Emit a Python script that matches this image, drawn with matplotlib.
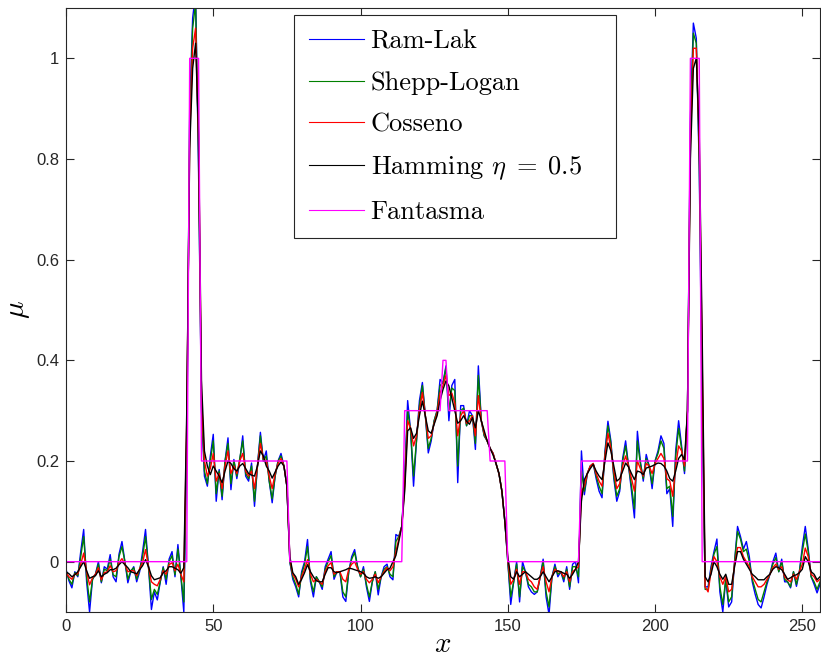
import numpy as np
import matplotlib
matplotlib.use("Agg")
import matplotlib.pyplot as plt
from matplotlib.font_manager import FontProperties

plt.rcParams["mathtext.fontset"] = "cm"
plt.rcParams["font.family"] = ["Liberation Sans", "DejaVu Sans"]

# reconstructed profiles, one sample per pixel column (x = 0..256)
x_rec = np.arange(257)

ram_lak = [
    -.015, -.038, -.052, -.020, -.030, .020, .064, -.040, -.100, -.035,
    -.025, .000, -.042, -.010, -.015, .014, -.030, -.040, .015, .040,
    .000, -.042, -.020, -.010, -.040, -.020, .020, .064, -.010, -.095,
    -.060, -.076, -.040, -.010, -.045, .005, .020, -.030, .034, -.030,
    -.100, .22, .90, 1.08, 1.13, .78, .30, .17, .15, .21,
    .253, .12, .183, .123, .20, .246, .143, .203, .165, .20,
    .25, .17, .16, .196, .11, .19, .257, .20, .22, .16,
    .117, .17, .20, .215, .19, .15, .00, -.035, -.05, -.07,
    -.02, .00, .044, -.04, -.07, -.03, -.04, -.055, -.01, .005,
    .02, -.035, -.02, -.02, -.07, -.079, -.02, .01, .024, -.01,
    -.03, -.01, -.05, -.079, -.04, -.02, -.066, -.03, -.01, -.005,
    -.03, -.036, .054, .05, .07, .17, .32, .26, .15, .24,
    .32, .356, .29, .216, .24, .28, .30, .362, .355, .389,
    .28, .35, .362, .157, .31, .31, .27, .30, .29, .223,
    .389, .28, .25, .24, .225, .215, .195, .175, .14, .08,
    .00, -.085, -.04, .00, -.08, .00, -.02, -.05, -.06, -.065,
    -.06, -.03, .005, -.07, -.105, -.03, -.005, -.03, -.02, -.04,
    -.01, -.055, -.005, .00, -.042, .22, .133, .175, .19, .195,
    .165, .14, .127, .22, .279, .24, .165, .12, .14, .205,
    .24, .19, .14, .087, .259, .20, .16, .213, .19, .145,
    .20, .22, .25, .235, .135, .145, .07, .22, .28, .23,
    .175, .30, .88, 1.07, 1.04, .78, .30, -.05, -.05, -.01,
    .02, .045, -.06, -.10, -.035, -.09, -.08, .00, .07, .05,
    .025, .04, .01, -.04, -.065, -.085, -.092, -.07, -.045, -.025,
    .00, .017, -.02, .005, -.04, -.04, -.052, -.02, -.049, -.02,
    .03, .07, .025, -.03, -.045, -.062, -.045,
]

shepp_logan = [
    -.018, -.035, -.045, -.022, -.028, .010, .050, -.030, -.080, -.035,
    -.025, -.005, -.040, -.015, -.018, .005, -.026, -.030, .010, .030,
    .000, -.035, -.018, -.012, -.035, -.016, .010, .050, -.010, -.075,
    -.055, -.065, -.040, -.012, -.035, .000, .012, -.026, .025, -.028,
    -.080, .25, .88, 1.06, 1.11, .80, .31, .18, .155, .20,
    .24, .135, .18, .13, .20, .235, .155, .20, .17, .205,
    .24, .175, .165, .19, .12, .19, .25, .20, .21, .16,
    .125, .17, .20, .21, .19, .15, .00, -.03, -.045, -.065,
    -.025, -.005, .03, -.035, -.06, -.03, -.04, -.05, -.015, .00,
    .012, -.03, -.02, -.02, -.06, -.07, -.02, .005, .018, -.01,
    -.03, -.015, -.045, -.07, -.04, -.02, -.055, -.03, -.015, -.01,
    -.025, -.03, .04, .05, .07, .16, .30, .26, .17, .24,
    .31, .35, .29, .225, .245, .28, .30, .35, .355, .385,
    .30, .345, .34, .19, .30, .305, .27, .29, .29, .235,
    .37, .28, .25, .24, .225, .215, .195, .175, .14, .08,
    .00, -.07, -.04, -.005, -.07, -.01, -.02, -.045, -.05, -.06,
    -.06, -.03, .00, -.06, -.09, -.03, -.01, -.025, -.02, -.035,
    -.015, -.05, -.01, -.01, -.03, .18, .14, .175, .19, .195,
    .17, .15, .135, .215, .27, .235, .17, .13, .145, .20,
    .23, .19, .15, .105, .24, .195, .165, .205, .19, .155,
    .20, .215, .24, .225, .145, .15, .09, .21, .265, .225,
    .18, .30, .86, 1.05, 1.03, .80, .35, -.055, -.055, -.015,
    .015, .03, -.05, -.085, -.035, -.08, -.07, .00, .06, .045,
    .02, .025, .00, -.035, -.055, -.075, -.08, -.06, -.04, -.025,
    -.005, .008, -.02, .00, -.035, -.04, -.05, -.02, -.045, -.02,
    .02, .055, .02, -.03, -.04, -.055, -.04,
]

cosseno = [
    -.022, -.030, -.035, -.025, -.024, -.005, .017, -.020, -.046, -.032,
    -.025, -.012, -.036, -.022, -.020, -.008, -.020, -.018, -.002, .006,
    -.005, -.020, -.018, -.018, -.028, -.014, -.002, .024, -.010, -.040,
    -.045, -.048, -.035, -.018, -.025, -.006, -.002, -.018, -.005, -.025,
    -.040, .28, .84, 1.02, 1.06, .84, .33, .20, .17, .185,
    .215, .16, .175, .145, .19, .22, .175, .19, .175, .20,
    .215, .18, .17, .18, .145, .19, .235, .205, .20, .17,
    .145, .175, .195, .205, .19, .15, .005, -.025, -.035, -.05,
    -.03, -.015, .004, -.025, -.04, -.035, -.04, -.045, -.02, -.008,
    -.002, -.025, -.02, -.02, -.035, -.04, -.015, -.005, .00, -.015,
    -.025, -.02, -.035, -.042, -.035, -.025, -.042, -.03, -.02, -.012,
    -.018, -.01, .02, .045, .07, .15, .28, .265, .23, .25,
    .30, .336, .29, .245, .25, .275, .295, .335, .35, .37,
    .33, .335, .315, .25, .29, .30, .275, .28, .29, .25,
    .33, .28, .255, .24, .225, .215, .195, .175, .14, .08,
    .005, -.045, -.035, -.015, -.045, -.02, -.02, -.035, -.04, -.05,
    -.055, -.03, -.01, -.04, -.06, -.03, -.015, -.02, -.02, -.03,
    -.02, -.04, -.02, -.015, -.01, .14, .15, .175, .19, .195,
    .175, .16, .15, .21, .255, .225, .18, .145, .155, .19,
    .21, .19, .165, .14, .20, .185, .17, .195, .19, .175,
    .195, .205, .215, .205, .165, .16, .13, .19, .23, .22,
    .19, .30, .83, 1.02, 1.02, .83, .40, -.05, -.06, -.02,
    .01, .00, -.03, -.045, -.03, -.06, -.055, -.005, .028, .028,
    .01, .00, -.01, -.03, -.04, -.05, -.05, -.045, -.035, -.025,
    -.012, -.005, -.015, -.01, -.03, -.036, -.04, -.025, -.035, -.02,
    -.005, .027, .01, -.025, -.03, -.04, -.035,
]

hamming = [
    -.020, -.024, -.030, -.026, -.020, -.010, .000, -.018, -.033, -.030,
    -.028, -.018, -.030, -.025, -.022, -.016, -.016, -.013, -.006, .000,
    -.006, -.012, -.020, -.022, -.024, -.016, -.008, .004, -.010, -.028,
    -.036, -.034, -.032, -.022, -.018, -.010, -.010, -.013, -.016, -.023,
    -.012, .30, .82, .98, 1.03, .85, .36, .22, .19, .173,
    .19, .18, .17, .157, .18, .20, .195, .185, .18, .19,
    .195, .185, .175, .172, .17, .19, .22, .21, .19, .18,
    .166, .178, .19, .198, .19, .15, .01, -.022, -.03, -.045,
    -.035, -.022, -.006, -.02, -.03, -.038, -.04, -.04, -.025, -.012,
    -.012, -.02, -.022, -.02, -.018, -.016, -.013, -.014, -.016, -.018,
    -.02, -.023, -.03, -.033, -.032, -.03, -.033, -.03, -.023, -.016,
    -.013, .00, .012, .04, .07, .14, .26, .266, .245, .255,
    .29, .319, .29, .26, .255, .273, .29, .32, .342, .359,
    .349, .325, .30, .275, .28, .29, .279, .273, .286, .266,
    .30, .28, .26, .24, .225, .212, .195, .175, .14, .08,
    .01, -.03, -.035, -.02, -.03, -.025, -.02, -.025, -.03, -.035,
    -.035, -.03, -.02, -.03, -.04, -.03, -.02, -.018, -.02, -.023,
    -.025, -.033, -.025, -.015, .00, .12, .163, .175, .185, .193,
    .18, .17, .163, .20, .236, .22, .19, .16, .165, .18,
    .196, .188, .175, .163, .18, .178, .173, .186, .188, .19,
    .193, .196, .195, .19, .18, .165, .16, .18, .205, .213,
    .203, .30, .80, .98, 1.0, .85, .45, -.03, -.04, -.025,
    .00, -.01, -.025, -.035, -.025, -.045, -.045, -.01, .02, .02,
    .005, -.005, -.015, -.025, -.03, -.036, -.036, -.036, -.03, -.025,
    -.015, -.01, -.012, -.016, -.025, -.035, -.032, -.028, -.026, -.022,
    -.015, .01, .00, -.02, -.025, -.036, -.03,
]

# phantom profile as piecewise-constant runs (value, number of samples)
phantom_levels = [0, 1, 0.2, 0, 0.3, 0.4, 0.3, 0.2, 0, 0.2, 1, 0]
phantom_runs = [42, 4, 30, 39, 13, 2, 14, 6, 25, 37, 4, 41]
phantom = np.repeat(phantom_levels, phantom_runs)

series = [
    (ram_lak, "Ram-Lak", (0, 0, 1)),
    (shepp_logan, "Shepp-Logan", (0, 0.5, 0)),
    (cosseno, "Cosseno", (1, 0, 0)),
    (hamming, r"Hamming $\eta\;=\;0.5$", (0, 0, 0)),
    (phantom, "Fantasma", (1, 0, 1)),
]

fig = plt.figure(figsize=(8.21, 6.60), dpi=100)
ax = fig.add_axes([66 / 821, 48 / 660, 754 / 821, 604 / 660])

for values, label, color in series:
    ax.plot(x_rec, values, color=color, lw=1.0, label=label)

ax.set_xlim(0, 256)
ax.set_ylim(-0.1, 1.1)
ax.set_xticks([0, 50, 100, 150, 200, 250])
ax.set_yticks([0, 0.2, 0.4, 0.6, 0.8, 1])
ax.set_yticklabels(["0", "0.2", "0.4", "0.6", "0.8", "1"])
ax.tick_params(direction="in", top=True, right=True, length=5.5,
               width=0.8, labelsize=12, colors="#262626", pad=5)
for spine in ax.spines.values():
    spine.set_color("#262626")
    spine.set_linewidth(0.8)

ax.set_xlabel(r"$x$", fontsize=21, labelpad=-3)
ax.set_ylabel(r"$\mu$", fontsize=21, labelpad=3)

# legend box stretched to a fixed width in axes coordinates
leg = ax.legend(loc="upper left", mode="expand",
                bbox_to_anchor=(0.3024, 0.5, 0.427, 0.4884),
                prop=FontProperties(family="cmr10", size=19),
                frameon=True, fancybox=False, framealpha=1,
                edgecolor="#262626", handlelength=2.1, handletextpad=0.25,
                labelspacing=0.68, borderpad=0.55, borderaxespad=0)
leg.get_frame().set_linewidth(0.8)
for line in leg.get_lines():
    line.set_linewidth(0.8)

fig.savefig("out.png", dpi=100)
